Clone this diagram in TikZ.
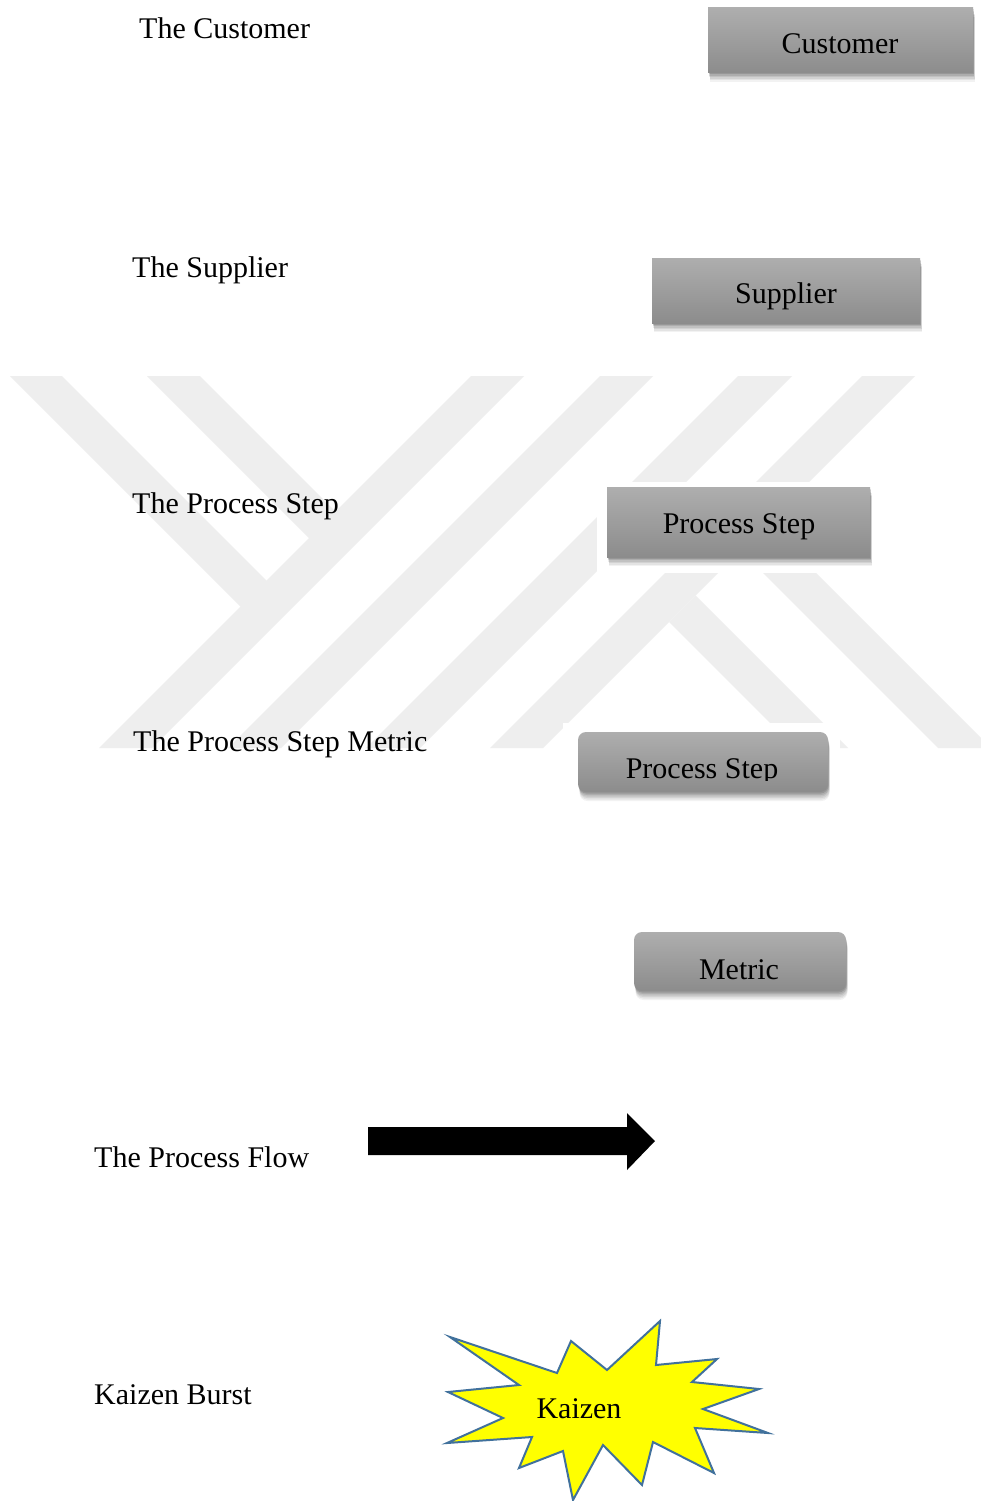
\documentclass[tikz,border=0pt]{standalone}
\usepackage{fontspec}
\setmainfont{Liberation Serif}
\usetikzlibrary{shadows}
\definecolor{wm}{RGB}{238,238,238}
\definecolor{boxtop}{RGB}{174,174,174}
\definecolor{boxbot}{RGB}{140,140,140}
\definecolor{kzline}{RGB}{65,113,156}
\definecolor{kzfill}{RGB}{255,255,0}
\begin{document}
\begin{tikzpicture}[x=1pt,y=-1pt,
  lbl/.style={inner sep=0pt, font=\fontsize{30}{36}\selectfont},
  wmark/.style={fill=wm, draw=none},
  canvasbg/.style={fill=white, draw=none},
  vsmbox/.style={draw=none, inner sep=0pt, top color=boxtop, bottom color=boxbot,
    general shadow={fill=black, opacity=.05, shadow xshift=1.5pt, shadow yshift=-9pt},
    general shadow={fill=black, opacity=.06, shadow xshift=1.5pt, shadow yshift=-7.5pt},
    general shadow={fill=black, opacity=.07, shadow xshift=1.5pt, shadow yshift=-6pt},
    general shadow={fill=black, opacity=.08, shadow xshift=1pt, shadow yshift=-4.5pt},
    general shadow={fill=black, opacity=.10, shadow xshift=1pt, shadow yshift=-3pt},
    general shadow={fill=black, opacity=.12, shadow xshift=.5pt, shadow yshift=-1.5pt}},
  roundbox/.style={vsmbox, rounded corners=8pt},
  burst/.style={draw=kzline, fill=kzfill, line width=2pt, line join=miter},
  flowarrow/.style={fill=black, draw=none}]
\useasboundingbox (0,0) rectangle (981,1501);
\fill[white] (0,0) rectangle (981,1501);

% watermark
\fill[wmark] (10,376) -- (62,376) -- (267.5,581.5) -- (241.5,607.5) -- cycle;
\fill[wmark] (147,376) -- (200,376) -- (336.5,512.5) -- (310,539) -- cycle;
\fill[wmark] (471,376) -- (524,376) -- (152,748) -- (99,748) -- cycle;
\fill[wmark] (600,376) -- (653,376) -- (281,748) -- (228,748) -- cycle;
\fill[wmark] (738,376) -- (792,376) -- (420,748) -- (366,748) -- cycle;
\fill[wmark] (862,376) -- (915,376) -- (543,748) -- (490,748) -- cycle;
\fill[wmark] (695.5,595.5) -- (848,748) -- (795,748) -- (669,622) -- cycle;
\fill[wmark] (767,524) -- (991,748) -- (938,748) -- (740.5,550.5) -- cycle;
\fill[canvasbg] (597,482) rectangle (880,573);
\fill[canvasbg] (563,723) rectangle (840,760);

% left labels
\node[lbl, anchor=base west] (lcust) at (139,39) {The Customer};
\node[lbl, anchor=base west] (lsupp) at (132,277) {The Supplier};
\node[lbl, anchor=base west] (lstep) at (132,513) {The Process Step};
\node[lbl, anchor=base west] (lmetric) at (133,751) {The Process Step Metric};
\node[lbl, anchor=base west] (lflow) at (94,1167) {The Process Flow};
\node[lbl, anchor=base west] (lkaizen) at (94,1404) {Kaizen Burst};

% boxes
\node[vsmbox, minimum width=265pt, minimum height=65pt] (cust) at (840.5,40.5) {};
\node[lbl, anchor=base] (tcust) at (840,54) {Customer};
\node[vsmbox, minimum width=268pt, minimum height=65pt] (supp) at (786,290.5) {};
\node[lbl, anchor=base] (tsupp) at (786,303) {Supplier};
\node[vsmbox, minimum width=263pt, minimum height=70pt] (step) at (738.5,522) {};
\node[lbl, anchor=base] (tstep) at (739,533) {Process Step};
\node[roundbox, minimum width=250pt, minimum height=60pt] (mstep) at (703,762) {};
\begin{scope}
  \clip (560,700) rectangle (850,780);
  \node[lbl, anchor=base] (tmstep) at (702,778.5) {Process Step};
\end{scope}
\node[roundbox, minimum width=212pt, minimum height=59pt] (metric) at (740,961.5) {};
\node[lbl, anchor=base] (tmetric) at (739,979) {Metric};

% process flow arrow
\fill[flowarrow] (368,1127) -- (627,1127) -- (627,1113) -- (655,1141)
  -- (627,1170) -- (627,1155) -- (368,1155) -- cycle;

% kaizen burst
\draw[burst] (450,1337) -- (557,1373) -- (571,1341) -- (607,1370) -- (660,1321)
  -- (656,1365) -- (717,1359) -- (692,1382) -- (759,1389) -- (703,1409)
  -- (768,1433) -- (695,1428) -- (714,1473) -- (653,1442) -- (642,1485)
  -- (603,1445) -- (573,1500) -- (563,1451) -- (519,1468) -- (532,1437)
  -- (447,1443) -- (503,1418) -- (448,1392) -- (519,1385) -- cycle;
\node[lbl, anchor=base] (tkaizen) at (579,1418) {Kaizen};
\end{tikzpicture}
\end{document}
